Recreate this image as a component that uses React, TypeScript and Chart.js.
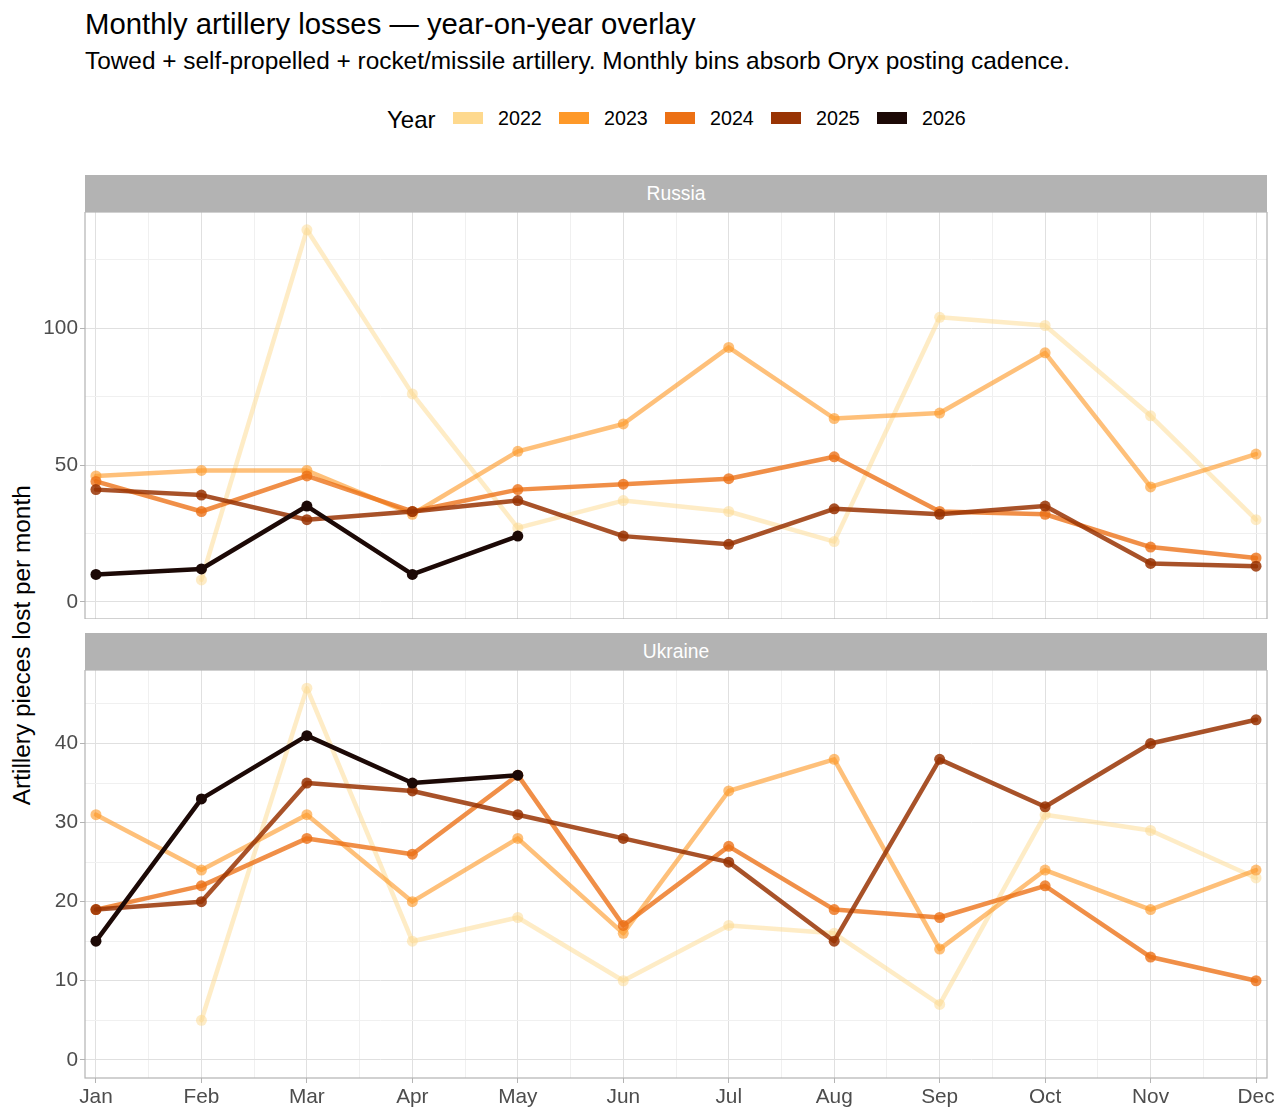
import React, { useEffect, useRef } from 'react';
import Chart from 'chart.js/auto';

const MONTHS = ['Jan', 'Feb', 'Mar', 'Apr', 'May', 'Jun', 'Jul', 'Aug', 'Sep', 'Oct', 'Nov', 'Dec'];
const YEARS = ['2022', '2023', '2024', '2025', '2026'];
const YEAR_COLORS = ['#fed98e', '#fe9929', '#ec7014', '#993404', '#1c0906'];
const LINE_ALPHA = [0.5, 0.62, 0.78, 0.85, 1];

// Russia, pieces lost per month
const RU_2022 = [null, 8, 136, 76, 27, 37, 33, 22, 104, 101, 68, 30];
const RU_2023 = [46, 48, 48, 32, 55, 65, 93, 67, 69, 91, 42, 54];
const RU_2024 = [44, 33, 46, 33, 41, 43, 45, 53, 33, 32, 20, 16];
const RU_2025 = [41, 39, 30, 33, 37, 24, 21, 34, 32, 35, 14, 13];
const RU_2026 = [10, 12, 35, 10, 24, null, null, null, null, null, null, null];

// Ukraine
const UA_2022 = [null, 5, 47, 15, 18, 10, 17, 16, 7, 31, 29, 23];
const UA_2023 = [31, 24, 31, 20, 28, 16, 34, 38, 14, 24, 19, 24];
const UA_2024 = [19, 22, 28, 26, 36, 17, 27, 19, 18, 22, 13, 10];
const UA_2025 = [19, 20, 35, 34, 31, 28, 25, 15, 38, 32, 40, 43];
const UA_2026 = [15, 33, 41, 35, 36, null, null, null, null, null, null, null];

const RU_Y_TICKS = [0, 25, 50, 75, 100, 125];
const RU_Y_LABELS = [0, 50, 100];
const UA_Y_TICKS = [0, 5, 10, 15, 20, 25, 30, 35, 40, 45];
const UA_Y_LABELS = [0, 10, 20, 30, 40];

const FONT = '"Liberation Sans", Arial, Helvetica, sans-serif';
const GRID_MAJOR = '#e0e0e0';
const GRID_MINOR = '#f0f0f0';
const FRAME = '#b3b3b3';
const AXIS_TEXT = '#4d4d4d';
const AXIS_SIZE = 20.8;

const X_MIN = 0.896;
const X_MAX = 12.104;

function rgba(hex: string, a: number) {
  const n = parseInt(hex.slice(1), 16);
  return `rgba(${(n >> 16) & 255}, ${(n >> 8) & 255}, ${n & 255}, ${a})`;
}

const panelBorder = {
  id: 'panelBorder',
  afterDatasetsDraw(chart: any) {
    const { ctx, chartArea } = chart;
    ctx.save();
    ctx.strokeStyle = FRAME;
    ctx.lineWidth = 1.2;
    ctx.strokeRect(chartArea.left, chartArea.top, chartArea.right - chartArea.left, chartArea.bottom - chartArea.top);
    ctx.restore();
  },
};

interface PanelProps {
  series: (number | null)[][];
  yMin: number;
  yMax: number;
  yTicks: number[];
  yLabels: number[];
  showX: boolean;
  top: number;
  height: number;
}

const Panel: React.FC<PanelProps> = ({ series, yMin, yMax, yTicks, yLabels, showX, top, height }) => {
  const canvasRef = useRef<HTMLCanvasElement | null>(null);

  useEffect(() => {
    if (!canvasRef.current) return;
    const xTicks: number[] = [];
    MONTHS.forEach((_, i) => {
      xTicks.push(i + 1);
      if (i < MONTHS.length - 1) xTicks.push(i + 1.5);
    });

    const chart = new Chart(canvasRef.current, {
      type: 'line',
      data: {
        datasets: YEARS.map((year, i) => {
          const c = rgba(YEAR_COLORS[i], LINE_ALPHA[i]);
          return {
            label: year,
            data: series[i].map((v, m) => ({ x: m + 1, y: v })),
            borderColor: c,
            backgroundColor: c,
            pointBackgroundColor: c,
            pointBorderWidth: 0,
            pointRadius: 5.5,
            pointHoverRadius: 5.5,
            borderWidth: 4.5,
            borderJoinStyle: 'round',
            borderCapStyle: 'round',
            spanGaps: false,
            tension: 0,
            order: YEARS.length - i,
          };
        }),
      } as any,
      options: {
        responsive: false,
        animation: false,
        events: [],
        layout: { autoPadding: false, padding: { left: 0, right: 13, top: 0, bottom: 0 } },
        plugins: { legend: { display: false }, tooltip: { enabled: false } },
        scales: {
          x: {
            type: 'linear',
            min: X_MIN,
            max: X_MAX,
            afterBuildTicks: (s: any) => {
              s.ticks = xTicks.map((v) => ({ value: v }));
            },
            afterFit: (s: any) => {
              s.height = showX ? 42 : 0;
              s.paddingLeft = 0;
              s.paddingRight = 0;
            },
            border: { display: false },
            grid: {
              color: (c: any) => (Number.isInteger(c.tick?.value) ? GRID_MAJOR : GRID_MINOR),
              lineWidth: 1,
              drawTicks: showX,
              tickLength: 5,
              tickColor: (c: any) => (Number.isInteger(c.tick?.value) ? FRAME : 'rgba(0,0,0,0)'),
            },
            ticks: {
              display: showX,
              autoSkip: false,
              maxRotation: 0,
              padding: 2,
              color: AXIS_TEXT,
              font: { family: FONT, size: AXIS_SIZE },
              callback: (v: any) => (Number.isInteger(v) ? MONTHS[v - 1] : ''),
            },
          },
          y: {
            type: 'linear',
            min: yMin,
            max: yMax,
            afterBuildTicks: (s: any) => {
              s.ticks = yTicks.map((v) => ({ value: v }));
            },
            afterFit: (s: any) => {
              s.width = 85;
              s.paddingTop = 0;
              s.paddingBottom = 0;
            },
            border: { display: false },
            grid: {
              color: (c: any) => (yLabels.includes(c.tick?.value) ? GRID_MAJOR : GRID_MINOR),
              lineWidth: 1,
              tickLength: 5,
              tickColor: (c: any) => (yLabels.includes(c.tick?.value) ? FRAME : 'rgba(0,0,0,0)'),
            },
            ticks: {
              padding: 2,
              color: AXIS_TEXT,
              font: { family: FONT, size: AXIS_SIZE },
              callback: (v: any) => (yLabels.includes(v) ? String(v) : ''),
            },
          },
        },
      } as any,
      plugins: [panelBorder],
    });

    return () => {
      chart.destroy();
    };
  }, [series, yMin, yMax, yTicks, yLabels, showX]);

  return (
    <canvas
      ref={canvasRef}
      width={1280}
      height={height}
      style={{ position: 'absolute', left: 0, top, width: 1280, height }}
    />
  );
};

const Strip: React.FC<{ label: string; top: number }> = ({ label, top }) => (
  <div
    style={{
      position: 'absolute',
      left: 85,
      top,
      width: 1182,
      height: 37,
      background: FRAME,
      color: '#ffffff',
      font: `19.3px ${FONT}`,
      lineHeight: '19.3px',
      textAlign: 'center',
    }}
  >
    <div style={{ position: 'absolute', left: 0, right: 0, top: 8.7 }}>{label}</div>
  </div>
);

const RU_SERIES = [RU_2022, RU_2023, RU_2024, RU_2025, RU_2026];
const UA_SERIES = [UA_2022, UA_2023, UA_2024, UA_2025, UA_2026];

export default function App() {
  const legendX = [453, 559, 665, 771, 877];
  return (
    <div style={{ position: 'absolute', left: 0, top: 0, width: 1280, height: 1120, background: '#fff', fontFamily: FONT }}>
      <div style={{ position: 'absolute', left: 85, top: 8.6, font: `29.3px ${FONT}`, lineHeight: '29.3px', color: '#000', whiteSpace: 'nowrap' }}>
        Monthly artillery losses — year-on-year overlay
      </div>
      <div style={{ position: 'absolute', left: 85, top: 49, font: `24.4px ${FONT}`, lineHeight: '24.4px', color: '#000', whiteSpace: 'nowrap' }}>
        Towed + self-propelled + rocket/missile artillery. Monthly bins absorb Oryx posting cadence.
      </div>

      <div style={{ position: 'absolute', left: 387, top: 107.7, font: `24px ${FONT}`, lineHeight: '24px', color: '#000' }}>Year</div>
      {YEARS.map((y, i) => (
        <React.Fragment key={y}>
          <div style={{ position: 'absolute', left: legendX[i], top: 112, width: 30, height: 12, background: YEAR_COLORS[i] }} />
          <div style={{ position: 'absolute', left: legendX[i] + 45, top: 109.3, font: `19.7px ${FONT}`, lineHeight: '19.7px', color: '#000' }}>{y}</div>
        </React.Fragment>
      ))}

      <div
        style={{
          position: 'absolute',
          left: 22 - 250,
          top: 645 - 12.2,
          width: 500,
          height: 24.4,
          font: `24.4px ${FONT}`,
          lineHeight: '24.4px',
          textAlign: 'center',
          color: '#000',
          transform: 'rotate(-90deg)',
          whiteSpace: 'nowrap',
        }}
      >
        Artillery pieces lost per month
      </div>

      <Strip label="Russia" top={175} />
      <Panel series={RU_SERIES} yMin={-6.3} yMax={142.5} yTicks={RU_Y_TICKS} yLabels={RU_Y_LABELS} showX={false} top={212} height={407} />

      <Strip label="Ukraine" top={633} />
      <Panel series={UA_SERIES} yMin={-2.3} yMax={49.3} yTicks={UA_Y_TICKS} yLabels={UA_Y_LABELS} showX={true} top={670} height={450} />
    </div>
  );
}
